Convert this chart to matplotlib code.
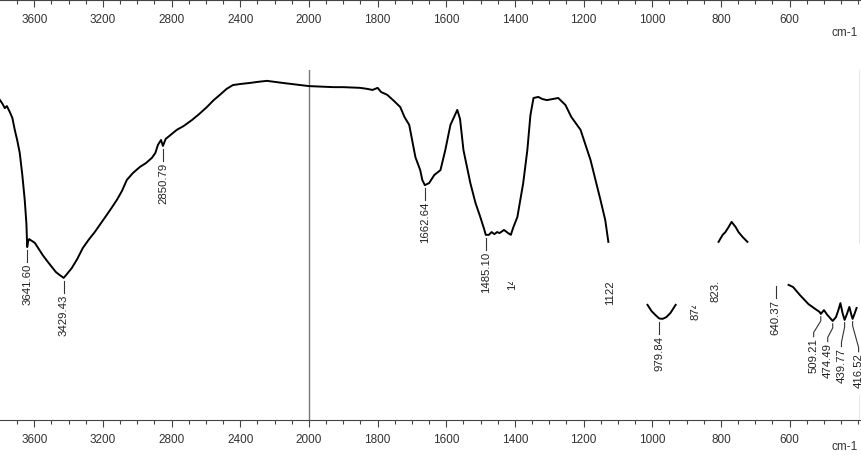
import matplotlib
matplotlib.use("Agg")
import matplotlib.pyplot as plt
from matplotlib.patches import Rectangle
from matplotlib.ticker import FixedLocator, NullFormatter
import numpy as np

plt.rcParams['font.family'] = ['Liberation Sans', 'DejaVu Sans']

# spectrum pieces that are visible in the print (wavenumber cm-1, %T)
seg1_wn = [3800, 3785, 3772, 3760, 3743, 3728, 3714, 3700, 3685, 3670, 3656, 3646,
           3641.6, 3636, 3630, 3622, 3612, 3597, 3575, 3551, 3525, 3498, 3475, 3452,
           3440, 3429.4, 3415, 3400, 3382, 3350, 3318, 3285, 3248, 3215, 3178, 3150,
           3119, 3090, 3061, 3025, 2985, 2950, 2915, 2895, 2880, 2862, 2850.8, 2835,
           2800, 2770, 2730, 2682, 2640, 2595, 2555, 2519, 2480, 2443, 2400, 2344,
           2300, 2245, 2200, 2152, 2100, 2052, 2000, 1929, 1900, 1851, 1830, 1815,
           1800, 1790, 1772, 1755, 1734, 1722, 1708, 1690, 1676, 1670, 1662.6, 1650,
           1635, 1617, 1603, 1588, 1568, 1560, 1550, 1530, 1515, 1501, 1490, 1485.1,
           1476, 1468, 1460, 1452, 1445, 1432, 1420, 1412, 1405, 1393, 1376, 1364,
           1355, 1346, 1332, 1320, 1307, 1290, 1274, 1253, 1236, 1209, 1180, 1151,
           1137, 1128]
seg1_t = [91.4, 90.3, 89.1, 89.7, 88.0, 86.3, 82.9, 80.0, 76.3, 70.0, 62.9, 56.0,
          49.4, 51.0, 51.7, 51.4, 51.1, 50.6, 48.9, 47.1, 45.4, 43.7, 42.3, 41.4,
          41.0, 40.6, 41.4, 42.3, 43.4, 46.0, 49.1, 51.4, 53.7, 56.0, 58.6, 60.6,
          62.9, 65.4, 68.6, 70.6, 72.3, 73.4, 74.9, 76.3, 78.6, 80.0, 78.3, 80.3,
          81.7, 82.9, 84.0, 85.7, 87.4, 89.4, 91.4, 92.9, 94.6, 95.7, 96.0, 96.3,
          96.6, 96.9, 96.6, 96.3, 96.0, 95.7, 95.4, 95.1, 95.1, 94.9, 94.6, 94.3,
          94.9, 93.7, 92.9, 91.4, 89.4, 86.6, 84.3, 75.1, 71.4, 68.6, 67.1, 67.7,
          70.0, 71.4, 77.1, 84.3, 88.6, 86.0, 77.1, 67.7, 62.0, 58.0, 54.6, 52.9,
          52.9, 53.7, 53.1, 53.7, 53.4, 54.3, 53.4, 52.9, 55.0, 58.0, 67.7, 77.1,
          87.1, 92.0, 92.3, 91.7, 91.4, 91.7, 92.0, 90.0, 86.6, 82.9, 74.3, 62.9,
          57.1, 50.9]
seg2_wn = [1014, 1002, 991, 979.8, 970, 959, 947, 932]
seg2_t = [32.9, 31.1, 30.0, 29.0, 28.9, 29.4, 30.6, 32.9]
seg3_wn = [807, 795, 787, 778, 769, 757, 749, 737, 723]
seg3_t = [50.9, 52.9, 53.7, 55.1, 56.6, 55.1, 53.7, 52.3, 50.9]
seg4_wn = [603, 590, 570, 545, 525, 513, 509.2, 500, 490, 482, 474.5, 465, 458,
           452, 446, 439.8, 433, 426, 420, 416.5, 410, 405]
seg4_t = [38.6, 38.0, 35.7, 33.1, 31.7, 30.9, 30.3, 31.4, 30.0, 29.1, 28.3, 29.4,
          31.4, 33.4, 30.6, 28.6, 30.3, 32.3, 30.0, 28.9, 30.6, 32.0]

# peak labels: straight leaders
peak_wn = [3641.60, 3429.43, 2850.79, 1662.64, 1485.10, 979.84, 640.37]
peak_tip = [48.6, 39.8, 77.5, 66.3, 52.1, 28.1, 38.3]
# crowded labels at the low end: leader goes to a shifted text
low_wn = [509.21, 474.49, 439.77, 416.52]
low_tip = [29.5, 27.5, 27.8, 28.1]
low_text_wn = [530, 489, 449, 399]
low_text_top = [23.4, 22.0, 20.6, 19.1]
# labels that are mostly rubbed out in the print
lost_wn = [1408.0, 1122.0, 874.0, 816.0]
lost_text = ['1408.26', '1122.45', '874.12', '823.36']
lost_text_bottom = [37.1, 32.9, 28.6, 33.7]
erased_wn = [(1443, 685), (1064, 845)]
erased_t = [(39.4, 50.6), (32.6, 50.6)]

major_left = [3600, 3200, 2800, 2400, 2000]
major_right = [1800, 1600, 1400, 1200, 1000, 800, 600]


def fwd(w):
    w = np.asarray(w, dtype=float)
    return np.where(w > 2000, 2000 + (w - 2000) / 2.0, w)


def inv(u):
    u = np.asarray(u, dtype=float)
    return np.where(u > 2000, 2000 + (u - 2000) * 2.0, u)


minor_ticks = list(np.arange(3700, 2000, -100)) + list(np.arange(1950, 399, -50))
major_ticks = major_left + major_right


def style_xaxis(a):
    a.set_xscale('function', functions=(fwd, inv))
    a.set_xlim(3800, 395)
    a.xaxis.set_major_locator(FixedLocator(major_ticks))
    a.xaxis.set_minor_locator(FixedLocator(minor_ticks))
    a.xaxis.set_minor_formatter(NullFormatter())
    a.set_xticklabels([str(t) for t in major_ticks])
    a.tick_params(axis='x', which='major', length=5, width=0.8, color='#444444',
                  labelsize=8.5, labelcolor='#333333', pad=5)
    a.tick_params(axis='x', which='minor', length=3, width=0.8, color='#444444')


fig = plt.figure(figsize=(8.62, 4.55), dpi=100)
ax = fig.add_axes([0, 35 / 455, 860 / 862, 350 / 455])
ax_top = fig.add_axes([0, 1.0, 860 / 862, 0.001])

for a in (ax, ax_top):
    style_xaxis(a)
    for s in ('left', 'right', 'top'):
        a.spines[s].set_visible(False)
    a.spines['bottom'].set_color('#444444')
    a.spines['bottom'].set_linewidth(0.8)
    a.set_yticks([])
ax_top.set_ylim(0, 1)

ax.set_ylim(0, 100)

nan = [np.nan]
wn = seg1_wn + nan + seg2_wn + nan + seg3_wn + nan + seg4_wn
t = seg1_t + nan + seg2_t + nan + seg3_t + nan + seg4_t
ax.plot(wn, t, color='black', lw=1.4, zorder=5, solid_joinstyle='round')

# scale-change marker and broken right frame
ax.axvline(2000, color='#777777', lw=1.0, zorder=1)
ax.axvline(395, ymin=0.506, ymax=1.0, color='#888888', lw=1.0, zorder=1)
ax.axvline(395, ymin=0.0, ymax=0.071, color='#888888', lw=1.0, zorder=1)

lab_kw = dict(rotation=90, fontsize=8.2, color='#222222', ha='center')

for w, tip in zip(peak_wn, peak_tip):
    ax.plot([w, w], [tip, tip - 3.4], color='#333333', lw=0.8, zorder=4)
    ax.text(w, tip - 4.0, '%.2f' % w, va='top', zorder=2, **lab_kw)

for w, tip, tw, top in zip(low_wn, low_tip, low_text_wn, low_text_top):
    ax.plot([w, w, tw, tw], [tip, tip - 1.2, top + 1.6, top + 0.4],
            color='#333333', lw=0.8, zorder=4)
    ax.text(tw, top, '%.2f' % w, va='top', zorder=2, **lab_kw)

for w, txt, bot in zip(lost_wn, lost_text, lost_text_bottom):
    ax.text(w, bot, txt, va='bottom', zorder=2, **lab_kw)

# rubbed-out patches of the print
for (w1, w2), (t1, t2) in zip(erased_wn, erased_t):
    ax.add_patch(Rectangle((w1, t1), w2 - w1, t2 - t1, facecolor='white',
                           edgecolor='none', zorder=3))

fig.text(858 / 862, 1 - 33 / 455, 'cm-1', ha='right', va='center',
         fontsize=8.5, color='#333333')
fig.text(858 / 862, 1 - 447 / 455, 'cm-1', ha='right', va='center',
         fontsize=8.5, color='#333333')

fig.savefig('out.png', dpi=100)
